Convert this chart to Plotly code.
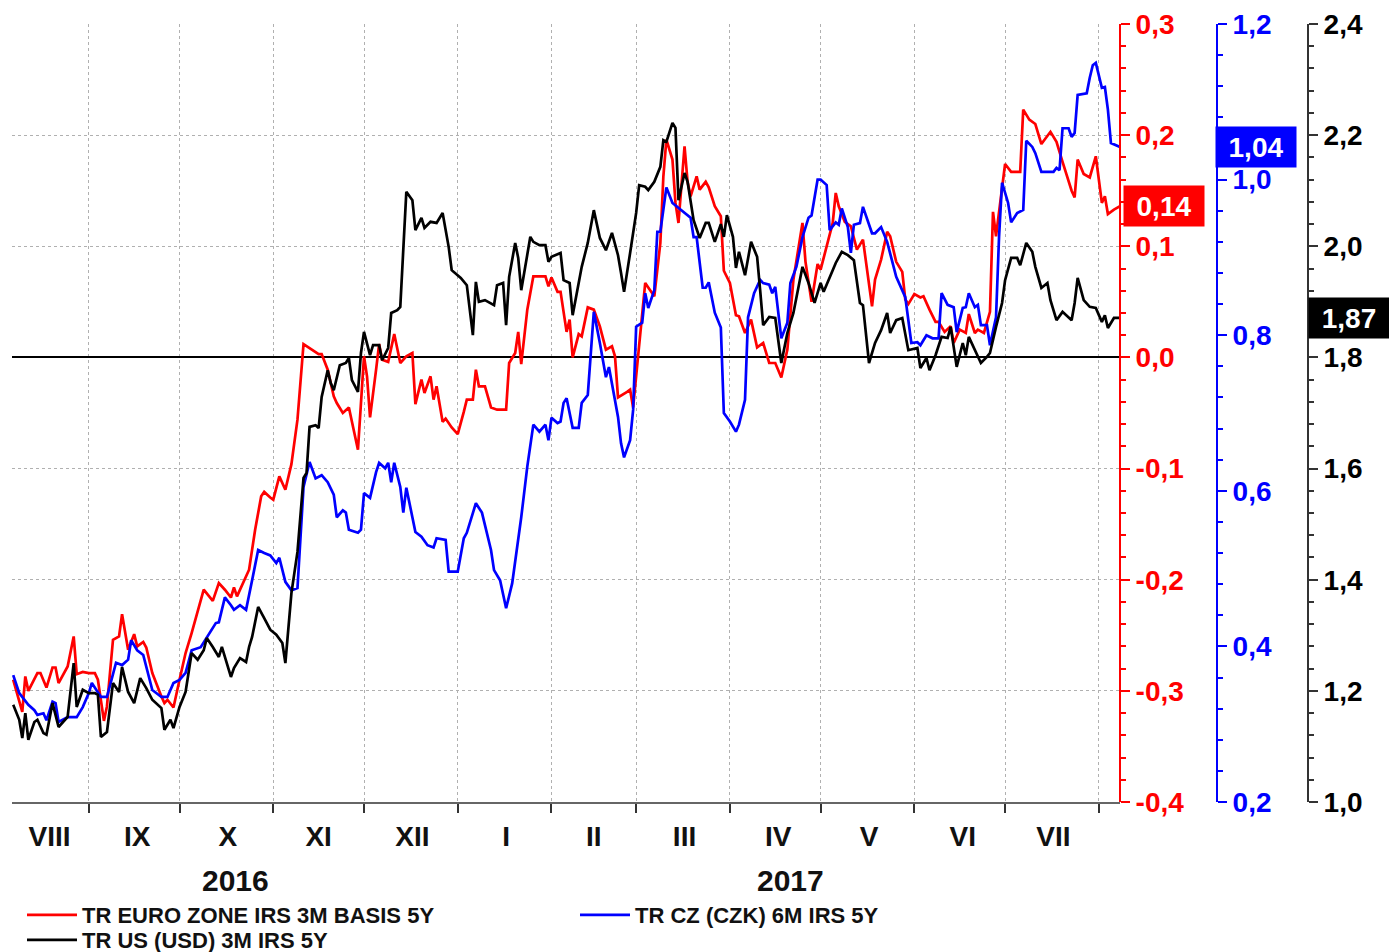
import pandas as pd
import plotly.graph_objects as go

BASE = pd.Timestamp("2016-08-01")

# ---- data: day offsets from 2016-08-01 and values ----
red_days = [6,9,10,11,14,15,17,19,20,21,24,26,27,29,31,33,34,36,37,39,41,42,44,46,47,49,50,52,55,56,57,59,61,63,65,69,72,74,76,78,79,80,84,86,88,89,91,92,94,96,98,100,102,105,107,108,110,112,113,115,117,120,122,123,124,126,127,128,130,132,134,136,138,139,141,142,144,145,146,148,149,151,153,155,156,158,159,160,162,164,166,169,170,172,173,174,176,178,180,182,183,184,186,187,189,190,191,193,194,196,198,200,202,204,205,206,209,210,211,213,215,216,218,220,221,222,224,225,226,228,229,230,232,233,235,236,238,240,241,243,245,246,248,250,252,254,256,258,260,262,264,267,268,270,272,273,275,277,278,279,281,283,285,287,290,291,293,295,296,298,300,301,302,304,306,307,309,311,312,314,316,317,319,321,322,324,325,327,329,330,331,333,334,336,339,340,342,344,346,349,351,353,356,357,358,360,362,364,366,367,368,370,372]
red_vals = [-0.290,-0.319,-0.287,-0.300,-0.284,-0.284,-0.297,-0.279,-0.279,-0.293,-0.278,-0.251,-0.285,-0.283,-0.284,-0.284,-0.290,-0.327,-0.314,-0.254,-0.251,-0.231,-0.263,-0.249,-0.260,-0.256,-0.261,-0.284,-0.305,-0.311,-0.308,-0.315,-0.290,-0.266,-0.248,-0.209,-0.219,-0.203,-0.209,-0.216,-0.207,-0.215,-0.191,-0.155,-0.125,-0.121,-0.126,-0.128,-0.107,-0.119,-0.096,-0.056,0.012,0.007,0.003,0.003,-0.011,-0.035,-0.041,-0.050,-0.045,-0.083,0.001,-0.017,-0.054,-0.011,0.012,-0.002,-0.004,0.021,-0.005,0.001,0.004,-0.042,-0.020,-0.032,-0.017,-0.038,-0.026,-0.058,-0.055,-0.063,-0.069,-0.049,-0.038,-0.038,-0.011,-0.026,-0.026,-0.045,-0.047,-0.047,-0.005,0.004,0.023,-0.006,0.043,0.073,0.073,0.073,0.064,0.072,0.059,0.059,0.023,0.034,0.000,0.021,0.019,0.045,0.043,0.028,0.007,0.010,0.001,-0.036,-0.031,-0.029,-0.045,0.013,0.067,0.063,0.055,0.103,0.163,0.196,0.178,0.139,0.121,0.190,0.158,0.145,0.163,0.151,0.158,0.153,0.136,0.127,0.078,0.067,0.038,0.037,0.022,0.034,0.009,0.013,-0.005,-0.005,-0.018,0.007,0.070,0.121,0.086,0.050,0.084,0.079,0.100,0.121,0.148,0.136,0.122,0.118,0.097,0.106,0.046,0.070,0.088,0.113,0.109,0.086,0.077,0.052,0.048,0.057,0.054,0.055,0.043,0.032,0.032,0.023,0.028,0.013,0.025,0.022,0.039,0.022,0.025,0.022,0.041,0.131,0.109,0.151,0.174,0.167,0.167,0.223,0.214,0.210,0.192,0.203,0.194,0.176,0.150,0.144,0.178,0.165,0.162,0.181,0.139,0.145,0.129,0.133,0.136]

blue_days = [6,8,11,13,14,16,17,19,20,21,24,27,29,31,32,35,37,40,42,44,45,47,49,50,52,55,57,59,61,63,65,68,70,73,74,76,78,79,81,83,85,87,89,91,93,94,96,98,100,102,104,106,108,110,112,113,115,116,117,120,121,122,124,126,127,129,130,131,132,134,135,136,138,139,141,143,145,146,149,150,153,155,156,159,161,164,165,167,169,171,174,176,178,180,182,183,184,186,187,188,189,191,193,194,196,197,198,200,202,203,204,206,207,208,210,211,212,214,215,216,218,219,220,222,224,225,227,229,230,231,232,234,235,236,238,240,241,243,245,246,248,249,251,253,254,256,257,258,260,262,263,265,267,269,270,272,273,275,276,278,279,280,282,283,284,286,287,290,291,293,295,298,301,303,305,306,308,310,312,313,315,317,318,320,321,322,324,325,326,328,329,331,332,333,335,336,338,340,341,343,344,346,348,350,351,352,353,355,356,357,358,361,362,363,364,366,367,368,369,372]
blue_vals = [0.363,0.340,0.325,0.318,0.312,0.314,0.305,0.329,0.327,0.303,0.309,0.309,0.322,0.340,0.353,0.335,0.335,0.379,0.376,0.383,0.408,0.395,0.389,0.374,0.344,0.335,0.335,0.353,0.357,0.366,0.395,0.399,0.412,0.430,0.431,0.463,0.453,0.447,0.453,0.447,0.485,0.524,0.520,0.517,0.507,0.514,0.483,0.472,0.475,0.605,0.637,0.616,0.620,0.611,0.595,0.566,0.575,0.572,0.550,0.546,0.550,0.597,0.591,0.624,0.636,0.629,0.636,0.611,0.636,0.605,0.572,0.604,0.566,0.547,0.541,0.530,0.527,0.539,0.537,0.496,0.496,0.539,0.546,0.584,0.572,0.524,0.498,0.485,0.449,0.481,0.566,0.631,0.685,0.676,0.685,0.665,0.694,0.687,0.689,0.713,0.719,0.681,0.681,0.713,0.723,0.772,0.830,0.790,0.746,0.759,0.739,0.695,0.661,0.643,0.665,0.704,0.811,0.816,0.854,0.835,0.858,0.933,0.933,0.990,0.970,0.967,0.961,0.954,0.951,0.926,0.926,0.861,0.861,0.868,0.829,0.810,0.700,0.689,0.676,0.685,0.717,0.823,0.854,0.871,0.867,0.865,0.854,0.862,0.796,0.816,0.867,0.888,0.926,0.951,0.954,1.000,1.000,0.993,0.935,0.945,0.942,0.963,0.939,0.906,0.942,0.944,0.965,0.931,0.931,0.939,0.920,0.875,0.849,0.790,0.791,0.787,0.800,0.796,0.796,0.854,0.839,0.836,0.804,0.835,0.836,0.854,0.836,0.839,0.813,0.813,0.787,0.823,0.926,0.996,0.970,0.945,0.957,0.961,1.050,1.042,1.034,1.010,1.010,1.010,1.015,1.012,1.066,1.066,1.055,1.060,1.109,1.111,1.131,1.147,1.150,1.118,1.119,1.090,1.047,1.042]

black_days = [6,8,9,10,11,13,14,16,17,19,21,24,26,27,29,31,33,34,35,37,39,41,42,44,46,48,50,52,55,56,58,59,61,63,65,67,69,70,72,74,75,78,79,81,83,84,85,87,89,91,93,95,96,97,98,100,101,102,103,104,106,107,108,110,111,112,114,116,117,118,120,121,122,124,125,127,128,130,131,133,134,135,136,138,139,141,142,144,146,148,150,151,154,156,158,159,160,162,164,165,166,168,169,170,172,173,174,177,178,180,182,183,184,187,188,190,191,193,194,196,198,200,202,204,206,207,208,210,212,213,215,216,218,220,221,222,224,225,226,228,229,231,233,235,236,238,240,241,242,244,245,246,248,250,252,253,254,256,258,260,262,264,267,269,271,273,274,277,278,280,282,284,286,287,289,291,293,295,296,298,300,302,305,306,308,309,311,313,315,316,318,320,321,322,324,326,328,329,331,333,334,336,338,339,341,343,344,346,348,349,351,353,356,357,358,360,362,364,366,367,368,370,372]
black_vals = [1.175,1.148,1.115,1.160,1.112,1.144,1.148,1.124,1.121,1.178,1.135,1.153,1.250,1.171,1.202,1.196,1.196,1.193,1.117,1.126,1.214,1.198,1.243,1.198,1.178,1.223,1.205,1.184,1.169,1.130,1.148,1.133,1.171,1.198,1.268,1.256,1.273,1.295,1.279,1.261,1.279,1.225,1.241,1.259,1.252,1.279,1.297,1.351,1.331,1.310,1.301,1.286,1.250,1.310,1.376,1.450,1.525,1.583,1.592,1.675,1.678,1.673,1.729,1.777,1.754,1.741,1.786,1.790,1.799,1.759,1.738,1.808,1.846,1.804,1.822,1.822,1.795,1.817,1.880,1.885,1.891,1.988,2.098,2.083,2.029,2.051,2.033,2.044,2.042,2.060,1.999,1.957,1.943,1.930,1.840,1.936,1.900,1.903,1.898,1.894,1.930,1.934,1.858,1.945,2.006,1.979,1.921,2.017,2.008,2.002,2.002,1.972,1.981,1.988,1.939,1.934,1.876,1.934,1.963,2.006,2.065,2.015,1.993,2.024,1.984,1.952,1.918,1.988,2.060,2.110,2.107,2.101,2.116,2.143,2.191,2.188,2.222,2.213,2.083,2.132,2.116,2.047,2.015,2.042,2.042,2.008,2.040,2.017,2.056,2.017,1.961,1.990,1.948,2.008,1.981,1.921,1.858,1.873,1.871,1.790,1.844,1.880,1.963,1.934,1.898,1.934,1.918,1.957,1.970,1.990,1.984,1.975,1.898,1.894,1.790,1.826,1.849,1.880,1.844,1.867,1.871,1.813,1.817,1.781,1.799,1.777,1.804,1.837,1.835,1.855,1.783,1.826,1.804,1.837,1.813,1.790,1.801,1.808,1.855,1.898,1.939,1.979,1.979,1.966,2.006,1.990,1.963,1.925,1.934,1.903,1.867,1.882,1.867,1.898,1.943,1.903,1.891,1.889,1.864,1.876,1.853,1.871,1.871]

series_names = ["TR EURO ZONE IRS 3M BASIS 5Y", "TR CZ (CZK) 6M IRS 5Y", "TR US (USD) 3M IRS 5Y"]
last_labels = ["0,14", "1,04", "1,87"]

month_starts = ["2016-09-01","2016-10-01","2016-11-01","2016-12-01","2017-01-01","2017-02-01",
                "2017-03-01","2017-04-01","2017-05-01","2017-06-01","2017-07-01","2017-08-01"]
month_label_pos = ["2016-08-19","2016-09-17","2016-10-17","2016-11-16","2016-12-17","2017-01-17",
                   "2017-02-15","2017-03-17","2017-04-17","2017-05-17","2017-06-17","2017-07-17"]
month_labels = ["VIII","IX","X","XI","XII","I","II","III","IV","V","VI","VII"]
years = ["2016", "2017"]

red_ticks = [-0.4,-0.3,-0.2,-0.1,0.0,0.1,0.2,0.3]
blue_ticks = [0.2,0.4,0.6,0.8,1.0,1.2]
black_ticks = [1.0,1.2,1.4,1.6,1.8,2.0,2.2,2.4]

def fmt(v):
    return f"{v:.1f}".replace(".", ",")

def to_dates(days):
    return [BASE + pd.Timedelta(days=d) for d in days]

RED, BLUE, BLACK = "#ff0000", "#0000ff", "#000000"
FONT = "Liberation Sans, Arial, sans-serif"

fig = go.Figure()
fig.add_trace(go.Scatter(x=to_dates(red_days), y=red_vals, name=series_names[0], mode="lines",
                         line=dict(color=RED, width=2.7), yaxis="y", legend="legend"))
fig.add_trace(go.Scatter(x=to_dates(blue_days), y=blue_vals, name=series_names[1], mode="lines",
                         line=dict(color=BLUE, width=2.7), yaxis="y2", legend="legend"))
fig.add_trace(go.Scatter(x=to_dates(black_days), y=black_vals, name=series_names[2], mode="lines",
                         line=dict(color=BLACK, width=2.7), yaxis="y3", legend="legend2"))

W, H = 1389, 952
ML, MR, MT, MB = 12, 80, 24, 150
PW = W - ML - MR
PH = H - MT - MB
def px_to_paper(px):
    return (px - ML) / PW
def py_to_paper(py):
    return (H - MB - py) / PH

dom_end = px_to_paper(1120)
xr = [BASE + pd.Timedelta(days=5.6), BASE + pd.Timedelta(days=372)]

legfont = dict(family=FONT, size=22, weight="bold", color="#111")

fig.update_layout(
    width=W, height=H,
    margin=dict(l=ML, r=MR, t=MT, b=MB, autoexpand=False),
    paper_bgcolor="white", plot_bgcolor="white",
    showlegend=True,
    legend=dict(orientation="h", x=px_to_paper(22), y=py_to_paper(894), xanchor="left",
                yanchor="top", font=legfont, entrywidth=488, entrywidthmode="pixels",
                itemwidth=50, bgcolor="rgba(0,0,0,0)"),
    legend2=dict(orientation="h", x=px_to_paper(22), y=py_to_paper(919), xanchor="left",
                 yanchor="top", font=legfont, itemwidth=50, bgcolor="rgba(0,0,0,0)"),
    xaxis=dict(domain=[0, dom_end], range=xr, type="date", automargin=False,
               tickmode="array", tickvals=month_label_pos, ticktext=month_labels, ticks="",
               tickfont=dict(family=FONT, size=28, weight="bold", color="#111"),
               ticklabelstandoff=8,
               showgrid=False, zeroline=False,
               showline=True, linecolor="#666", linewidth=2,
               minor=dict(tickmode="array", tickvals=month_starts, ticks="outside", ticklen=9,
                          tickwidth=2, tickcolor="#333", showgrid=True, gridcolor="#b0b0b0",
                          griddash="dot", gridwidth=1)),
    xaxis2=dict(domain=[0, dom_end], range=xr, type="date", overlaying="x", anchor="y",
                side="bottom", showticklabels=False, ticks="outside", ticklen=3,
                tickcolor="#999", tickwidth=1, dtick=86400000, tick0="2016-08-01",
                showgrid=False, zeroline=False, showline=False, automargin=False),
    yaxis=dict(range=[-0.4, 0.3], anchor="free", position=dom_end, side="right",
               automargin=False,
               tickmode="array", tickvals=red_ticks, ticktext=[fmt(v) for v in red_ticks],
               ticks="outside", ticklen=9, tickwidth=2, tickcolor=RED,
               tickfont=dict(family=FONT, size=28, weight="bold", color=RED),
               showline=True, linecolor=RED, linewidth=2,
               showgrid=True, gridcolor="#b0b0b0", griddash="dot", gridwidth=1,
               zeroline=True, zerolinecolor="#000", zerolinewidth=1.5,
               minor=dict(tickmode="linear", dtick=0.02, tick0=0, ticks="outside", ticklen=5,
                          tickcolor=RED, tickwidth=1.5, showgrid=False)),
    yaxis2=dict(range=[0.2, 1.2], anchor="free", overlaying="y", position=px_to_paper(1217),
                side="right", automargin=False, tickmode="array", tickvals=blue_ticks,
                ticktext=[fmt(v) for v in blue_ticks],
                ticks="outside", ticklen=9, tickwidth=2, tickcolor=BLUE,
                tickfont=dict(family=FONT, size=28, weight="bold", color=BLUE),
                showline=True, linecolor=BLUE, linewidth=2, showgrid=False, zeroline=False,
                minor=dict(tickmode="linear", dtick=0.04, tick0=0, ticks="outside", ticklen=5,
                           tickcolor=BLUE, tickwidth=1.5, showgrid=False)),
    yaxis3=dict(range=[1.0, 2.4], anchor="free", overlaying="y", position=px_to_paper(1308),
                side="right", automargin=False, tickmode="array", tickvals=black_ticks,
                ticktext=[fmt(v) for v in black_ticks],
                ticks="outside", ticklen=9, tickwidth=2, tickcolor="#333",
                tickfont=dict(family=FONT, size=28, weight="bold", color="#000"),
                showline=True, linecolor="#333", linewidth=2, showgrid=False, zeroline=False,
                minor=dict(tickmode="linear", dtick=0.04, tick0=0, ticks="outside", ticklen=5,
                           tickcolor="#333", tickwidth=1.5, showgrid=False)),
)

# year labels
for yr, px in zip(years, [235, 790]):
    fig.add_annotation(text=yr, xref="paper", yref="paper", x=px_to_paper(px), y=py_to_paper(880),
                       xanchor="center", yanchor="middle", showarrow=False,
                       font=dict(family=FONT, size=30, weight="bold", color="#111"))

# last value boxes
boxes = [(last_labels[0], 1123, "y", red_vals[-1], RED),
         (last_labels[1], 1215, "y2", blue_vals[-1], BLUE),
         (last_labels[2], 1308, "y3", black_vals[-1], BLACK)]
for txt, px, yref, yv, col in boxes:
    fig.add_annotation(text=txt, xref="paper", yref=yref, x=px_to_paper(px), y=yv,
                       xanchor="left", yanchor="middle", showarrow=False,
                       bgcolor=col, width=76, height=36, borderpad=2, align="center",
                       font=dict(family=FONT, size=28, weight="bold", color="white"))

fig.write_html("out.html", config={"displayModeBar": False},
               post_script="document.body.style.margin='0';document.body.style.padding='0';"
                           "document.body.style.overflow='hidden';")
